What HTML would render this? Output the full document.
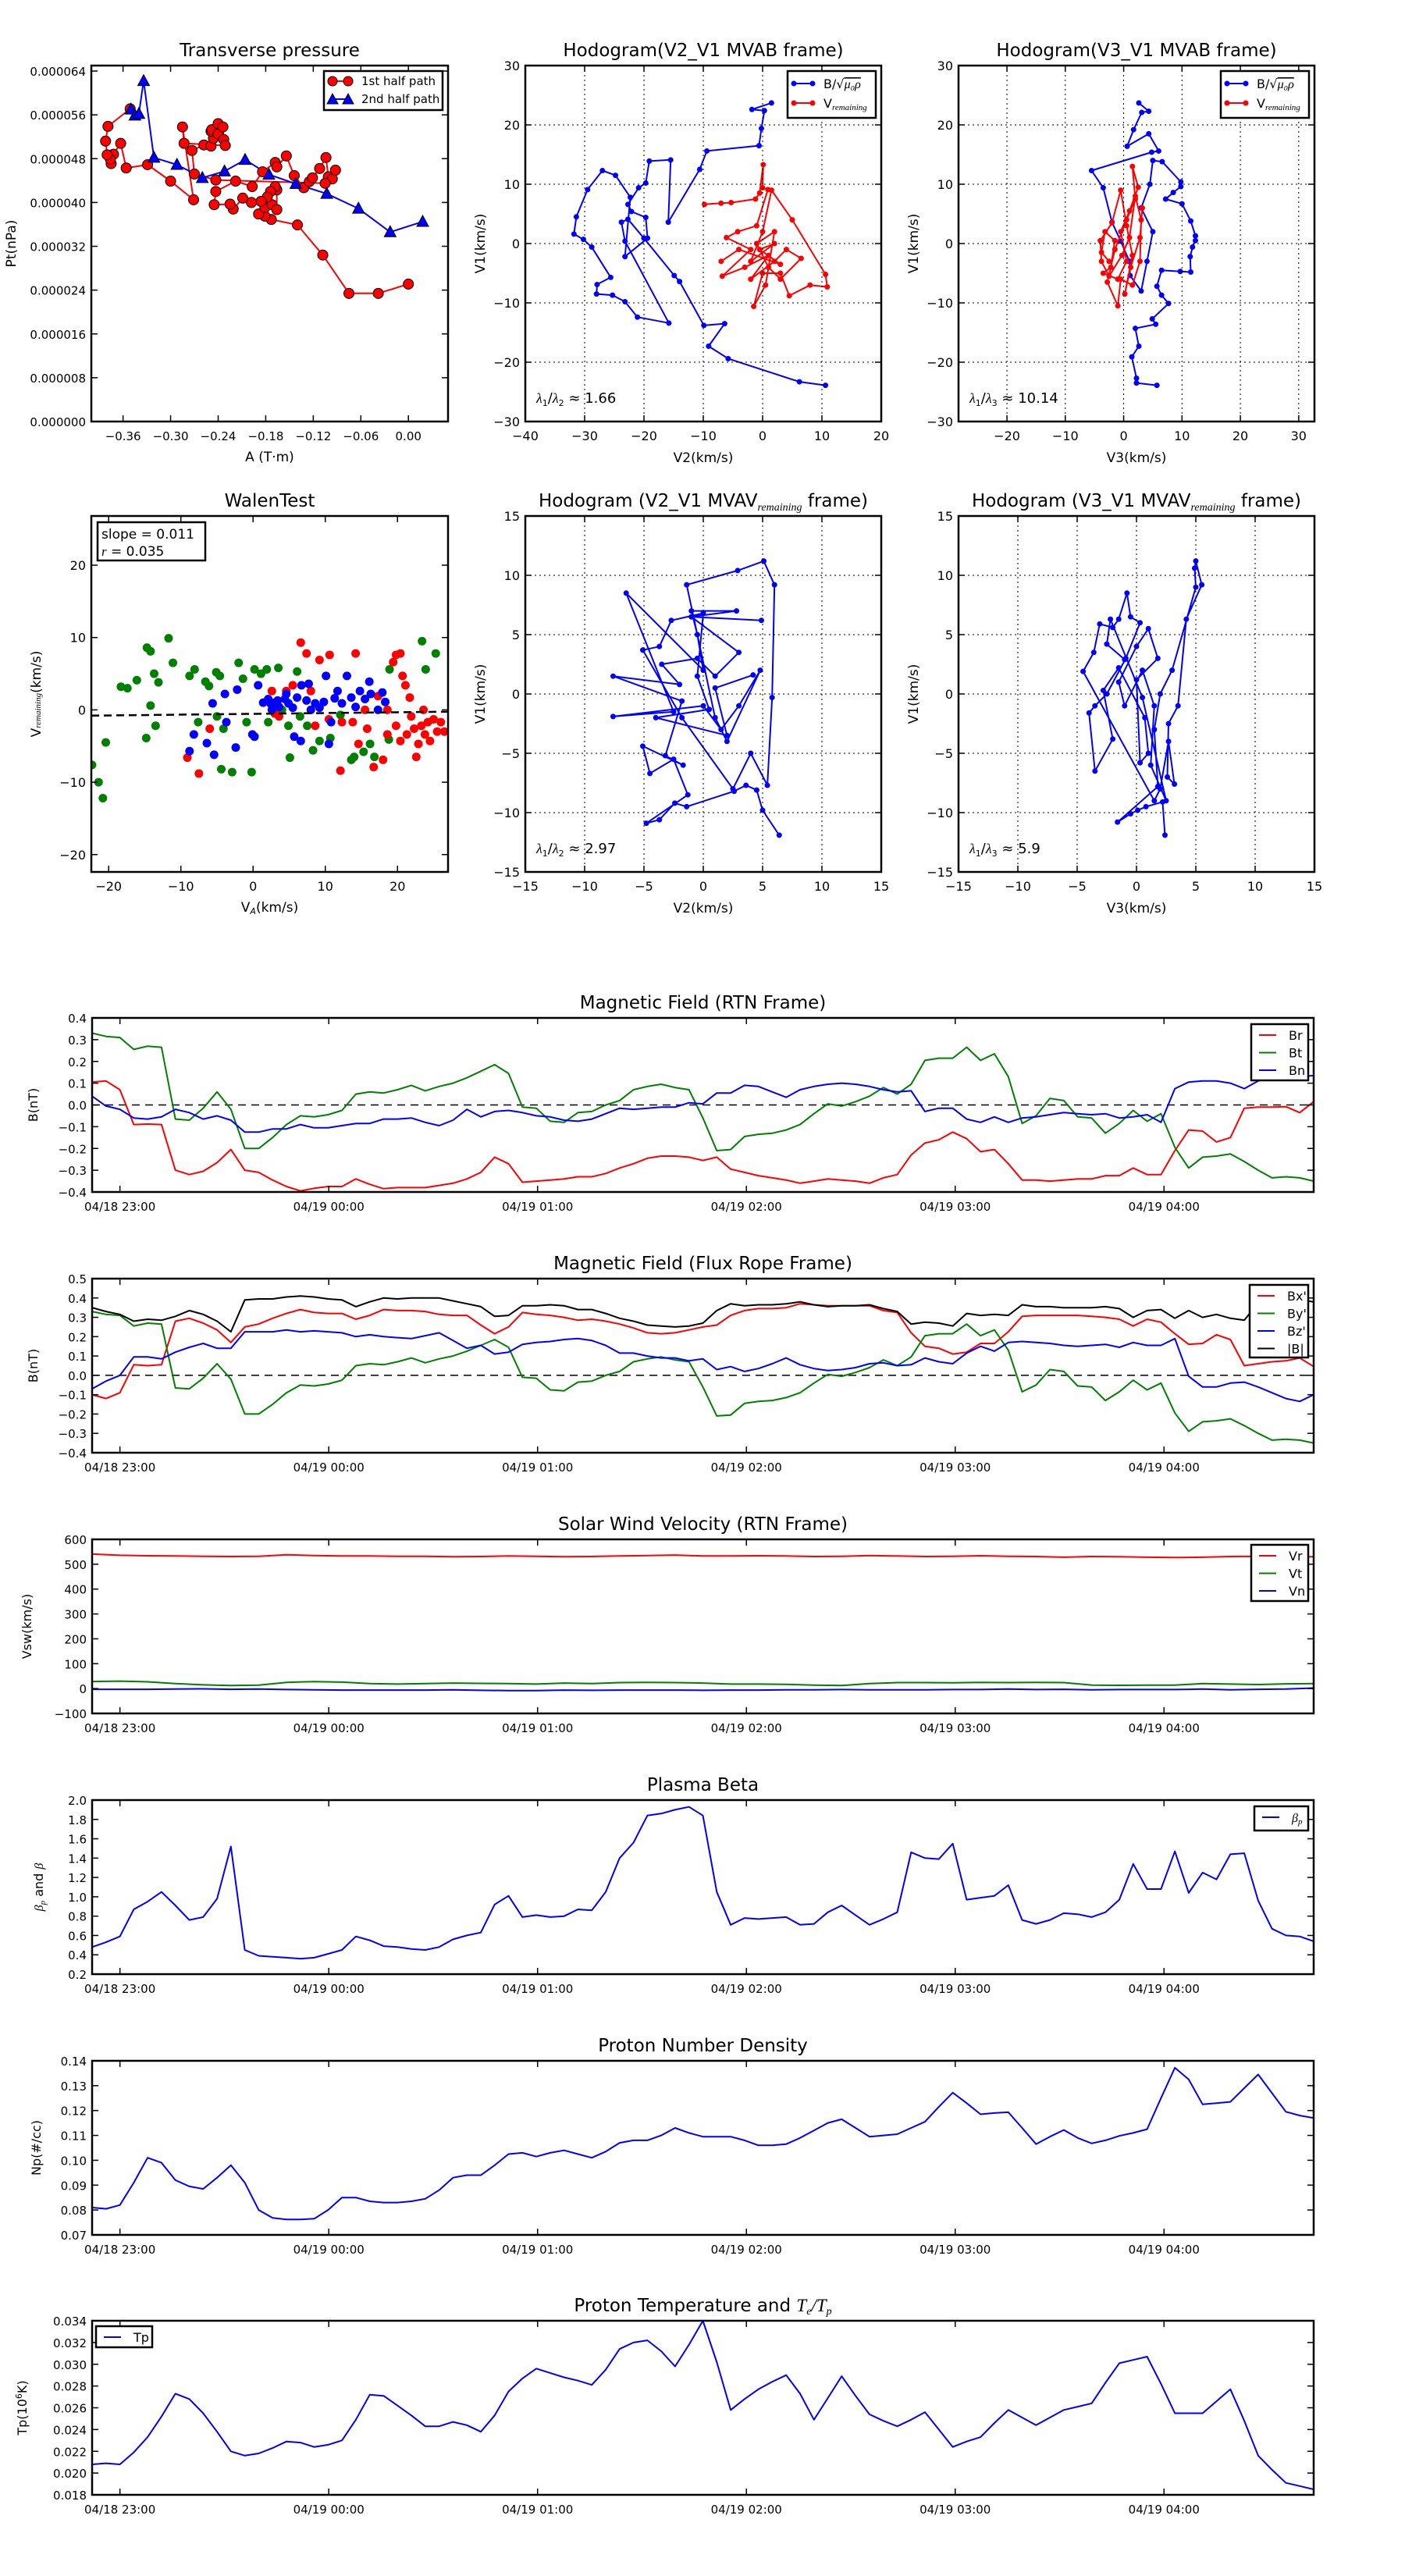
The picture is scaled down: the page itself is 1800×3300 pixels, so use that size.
<!DOCTYPE html>
<html><head><meta charset="utf-8"><title>Flux rope analysis</title>
<style>
html,body{margin:0;padding:0;background:#fff;}
svg{display:block;font-family:"DejaVu Sans","Liberation Sans",sans-serif;}
</style></head>
<body>
<svg id="fig" xmlns="http://www.w3.org/2000/svg" width="1800" height="3300" viewBox="0 0 1800 3300">
<rect x="0" y="0" width="1800" height="3300" fill="#fff"/>
</svg>
<script>
// ---------- data ----------
const ptRed = [[0,25.1],[-0.038,23.4],[-0.075,23.4],[-0.108,30.4],[-0.140,35.9],[-0.173,36.9],[-0.181,37.5],[-0.189,37.9],[-0.181,39.1],[-0.172,39.6],[-0.166,38.7],[-0.166,42.3],[-0.168,42.9],[-0.174,42.0],[-0.178,41.0],[-0.186,40.2],[-0.198,40.0],[-0.209,40.8],[-0.221,38.8],[-0.225,39.7],[-0.245,39.6],[-0.243,42.0],[-0.218,43.9],[-0.197,42.9],[-0.184,45.6],[-0.168,47.3],[-0.166,46.5],[-0.154,48.5],[-0.144,44.9],[-0.132,42.7],[-0.125,43.8],[-0.121,44.5],[-0.112,46.2],[-0.104,48.2],[-0.101,44.7],[-0.096,44.3],[-0.092,45.9],[-0.105,43.5],[-0.243,44.1],[-0.270,45.2],[-0.273,49.5],[-0.258,50.5],[-0.249,50.3],[-0.246,51.7],[-0.249,53.0],[-0.248,53.3],[-0.240,52.5],[-0.240,54.4],[-0.234,53.8],[-0.233,51.5],[-0.231,50.4],[-0.283,50.8],[-0.285,53.8],[-0.271,40.5],[-0.300,43.9],[-0.329,46.9],[-0.356,46.3],[-0.363,50.8],[-0.372,48.8],[-0.375,47.1],[-0.376,47.9],[-0.380,48.7],[-0.382,51.2],[-0.379,53.9],[-0.351,57.1]];
const ptBlue = [[-0.350,57.0],[-0.345,55.9],[-0.340,56.2],[-0.334,62.2],[-0.321,48.2],[-0.292,46.9],[-0.260,44.5],[-0.232,45.7],[-0.206,47.8],[-0.176,45.1],[-0.142,43.4],[-0.103,41.6],[-0.063,38.9],[-0.023,34.6],[0.018,36.5]];
const ptXTicks = [-0.36,-0.30,-0.24,-0.18,-0.12,-0.06,0.00];
const ptXLabels = ['\u22120.36','\u22120.30','\u22120.24','\u22120.18','\u22120.12','\u22120.06','0.00'];
const ptYTicks = [0,8,16,24,32,40,48,56,64];
const ptYLabels = ['0.000000','0.000008','0.000016','0.000024','0.000032','0.000040','0.000048','0.000056','0.000064'];

const h1Blue = [[1.5,23.7],[-1.8,22.6],[0.3,22.4],[-0.2,19.4],[-0.6,16.5],[-9.4,15.6],[-10.6,12.5],[-15.9,3.6],[-15.5,14.1],[-19.1,13.9],[-19.7,10.2],[-20.9,9.4],[-22.7,6.6],[-22.1,5.4],[-19.7,4.4],[-19.4,0.9],[-23.2,-2.2],[-22.3,7.8],[-24.8,11.5],[-27.0,12.3],[-29.5,9.1],[-31.4,4.5],[-31.8,1.6],[-30.2,0.7],[-28.8,-0.6],[-25.6,-5.7],[-27.9,-6.9],[-28.0,-8.5],[-25.3,-8.7],[-23.2,-9.8],[-21.1,-12.4],[-15.8,-13.4],[-23.2,0.4],[-23.8,3.6],[-22.7,4.1],[-20.0,0.9],[-14.9,-5.4],[-14.0,-6.4],[-9.9,-13.8],[-6.4,-13.5],[-9.1,-17.3],[-5.8,-19.4],[6.2,-23.3],[10.6,-23.9]];
const h1Red = [[-9.8,6.6],[-7.0,6.8],[-5.3,6.9],[-1.2,7.5],[-0.5,8.5],[0.1,13.3],[0,9.4],[0.9,9.1],[-1,3],[-4.2,2.0],[-6.1,1.0],[-2,-1],[-6.8,-5.5],[-3,-4],[1,-2],[-2,-6],[2,-3],[4,-1],[6.5,-2.5],[3,-6],[1,-4],[-1,0],[2,2],[0.5,-7],[-1.5,-10.6],[0,-5],[3,-5],[4.5,-8.8],[8,-7],[10.9,-7.3],[10.6,-5.2],[5,4],[1.5,9],[0,2],[-2,-3],[2,0],[-0.5,-1],[3,-3.5],[-4,-1],[-7,-3]];
const h2Blue = [[2.6,23.7],[4.3,22.3],[3.1,22.1],[1.7,19.2],[0.6,16.4],[4.3,18.5],[6,15.6],[4.8,15.4],[-5.5,12.3],[-3.5,9.4],[-2,3.6],[-0.5,0.4],[1,-3],[1.1,-5.4],[3,-8],[4,-3],[5,2],[3,6],[4.5,10],[5,14],[6.6,13.8],[9.8,10.4],[9.8,9.6],[8.5,8.6],[7.2,7.5],[10,6.7],[11.5,3.8],[12.3,1.3],[12.3,0.5],[11.8,-0.6],[11.4,-2.2],[11.5,-4.8],[9.7,-4.7],[6.5,-4.5],[5.7,-7.2],[6.5,-8.7],[7.7,-10.1],[4.9,-12.7],[5.5,-13.6],[2,-14.3],[2.6,-17.3],[1.4,-19.1],[2.2,-22.7],[2.2,-23.5],[5.7,-23.9]];
const h2Red = [[-2.5,-3],[-3.8,-1.5],[-3.2,2],[-1.5,0.5],[-2.2,-4],[-3.5,-5],[-1,-6],[0.5,-3],[-0.5,2],[1,5.5],[2.5,9.5],[1.5,13],[2,7.5],[0.5,4],[-1.5,-1],[-2.8,-6.5],[-1,-10.5],[-0.5,-6],[1.5,-7],[2.8,-3],[3,4],[2,8],[1,1],[-0.3,-2],[-2.5,-5.5],[-3.8,-3],[-4,0.5],[-2,3.5],[-0.5,9],[0.5,3],[1.5,-2],[0.2,-8.5],[1.2,-4],[2.8,1],[3.2,6]];
const h3Blue = [[6.4,-11.9],[5,-9.8],[4.5,-8.1],[3.6,-7.7],[2.6,-8.2],[-1.4,-9.5],[-2.4,-9.2],[-3.7,-10.6],[-4.8,-10.9],[-1.3,-8.5],[-2.5,-5.5],[-4.5,-6.7],[-5.1,-4.4],[-1.7,-6],[-3.2,-5.2],[-1.8,-0.6],[-7.6,1.5],[-2,0.8],[-3.5,2.5],[-0.5,3],[1,1.5],[3,3.5],[-1,6.5],[4.9,6.2],[-1,6.5],[2.8,7],[-1,7],[-0.5,5],[0,2],[-6.5,8.5],[-2.5,-1.5],[-7.6,-1.9],[0,-1],[1.5,-3],[3,-1],[4.8,2],[2,-4],[1,-2],[-1.4,9.2],[2.9,10.4],[5.1,11.2],[6,9.2],[5.8,-0.3],[5.4,-7.7],[4,-5],[2.5,-8],[-1.8,-2],[-5.1,3.7],[-3.7,4],[-2.7,6.2],[0,6.8],[-0.5,1.5],[0.5,-1.3],[-4,-2],[2,-3.5],[1,0.5],[4.2,1.6]];
const h4Blue = [[2.4,-11.9],[2.2,-9.1],[0.8,-9.5],[0.1,-9.8],[-0.5,-10.1],[-1.6,-10.8],[1.8,-7.8],[1.5,-3],[2,0],[3,2],[5,9],[4.9,10.6],[5,11.2],[5.5,9.2],[4.2,6.3],[3.5,-1],[2.7,-2.5],[2.6,-7],[3.2,-7.6],[2.7,-4],[2,-8],[1.5,-9],[-4.5,1.9],[-3.6,3.5],[-3.1,5.9],[-2,5.6],[-1.5,6.3],[-0.8,8.5],[-0.5,6.5],[0.3,6],[-0.9,3],[-2.5,0],[-3.5,-1],[-4,-1.6],[-3.5,-6.5],[-2,-3.8],[-2.8,0.3],[-1.5,2.2],[0.7,-2],[1,-5],[0.3,-5.8],[0,1.2],[1.8,3],[1,5.5],[0,4],[-1.5,1],[-1,-1],[0.5,2],[1.5,-1],[1.2,-6],[2.5,-9],[0.5,-0.3],[-2.2,6.3],[-2.5,4.2],[-1,2.9]];
const topTicks = [-30,-20,-10,0,10,20,30];
const v2TopTicks = [-40,-30,-20,-10,0,10,20];
const v3TopTicks = [-20,-10,0,10,20,30];
const lowTicks = [-15,-10,-5,0,5,10,15];
const ratios = ['1.66','10.14','2.97','5.9'];

const walenGreen = [[-22.3,-7.6],[-21.4,-10.0],[-20.8,-12.2],[-20.4,-4.5],[-18.3,3.2],[-17.4,3.0],[-16.1,4.1],[-14.7,8.6],[-14.2,8.1],[-14.8,-3.9],[-14.2,0.6],[-13.5,-2.2],[-13.1,3.8],[-13.7,5.0],[-11.7,9.9],[-11.1,6.5],[-8.8,4.7],[-8.1,5.6],[-7.6,-1.7],[-6.6,3.9],[-6.1,3.3],[-5.1,5.2],[-4.6,4.7],[-5.0,-0.9],[-4.1,-2.6],[-4.4,-8.2],[-2.9,-8.6],[-2.0,6.5],[-1.4,4.3],[-0.9,-1.7],[-0.2,-8.6],[0.2,5.6],[1.1,5.0],[1.9,5.6],[2.1,-1.7],[3.5,5.8],[4.0,0],[4.9,-2.2],[5.1,-6.6],[6.1,5.3],[6.5,-0.9],[7.5,-2.2],[8.3,-5.6],[9.2,-4.3],[10.7,-3.9],[12.1,-0.7],[13.6,-6.9],[14.0,-6.5],[15.3,-5.8],[16.2,-4.7],[16.8,-6.5],[18.9,5.6],[18.8,-4.1],[23.4,9.5],[25.3,7.8],[23.9,5.6]];
const walenRed = [[-9.1,-6.6],[-7.5,-8.8],[-6.0,-2.6],[2.6,2.6],[3.0,-0.5],[5.5,3.4],[6.6,9.3],[7.4,7.8],[9.2,6.9],[10.6,7.6],[12.1,-8.4],[12.3,-1.7],[14.2,7.8],[14.6,-4.7],[15.8,-2.6],[16.7,-7.9],[18.0,-6.9],[18.6,-3.4],[19.4,6.6],[19.8,7.6],[20.4,7.8],[20.7,4.7],[21.1,3.4],[21.7,1.7],[21.9,-0.9],[22.3,-2.6],[22.6,-6.5],[22.9,-4.7],[23.3,-2.2],[23.6,0],[23.8,-3.4],[24.2,-1.7],[24.5,-4.3],[25.0,-1.3],[25.5,-3.0],[26.0,-1.7],[26.5,-3.0],[19.8,-2.2],[20.4,-4.3],[21.3,-3.4],[18.6,0],[17.3,1.9],[15.5,0],[13.8,-1.7],[10.5,-1.3],[8.6,-2.2],[4.6,2.6],[3.6,-0.9],[8.0,2.6]];
const walenBlue = [[-8.8,-5.7],[-8.2,-3.4],[-6.4,-4.6],[-5.6,0.9],[-5.4,-6.2],[-3.9,2.2],[-3.7,-1.7],[-2.4,-5.2],[-2.2,2.8],[-0.1,-3.4],[0.2,-3.7],[2.1,1.5],[2.4,0.9],[3.0,1.0],[3.6,0.4],[4.4,1.5],[4.9,0.9],[5.5,0.3],[6.1,1.7],[5.7,-3.7],[6.6,-4.3],[6.7,3.4],[7.7,3.6],[8.6,0.9],[9.2,0.3],[9.8,1.1],[10.1,4.7],[10.5,-4.7],[10.8,-1.7],[11.3,1.6],[11.7,2.6],[12.3,0.9],[13.0,4.7],[13.6,1.7],[14.2,0.4],[14.8,2.6],[15.5,1.5],[16.1,3.9],[16.3,2.2],[17.3,0],[17.9,2.4],[18.3,1.1],[8.0,0],[7.4,1.3],[4.6,2.2],[3.4,1.3],[2.6,0],[1.4,1.0],[0.7,3.4]];
const walenFit = [0.011, -0.55];
const walenTicks = [-20,-10,0,10,20];

const hourTicks = [0,60,120,180,240,300];
const hourLabels = ['04/18 23:00','04/19 00:00','04/19 01:00','04/19 02:00','04/19 03:00','04/19 04:00'];
const Br = [0.105,0.11,0.07,-0.09,-0.088,-0.09,-0.30,-0.32,-0.305,-0.265,-0.205,-0.30,-0.31,-0.345,-0.375,-0.395,-0.383,-0.375,-0.375,-0.34,-0.365,-0.385,-0.38,-0.38,-0.38,-0.37,-0.36,-0.34,-0.31,-0.24,-0.27,-0.355,-0.35,-0.345,-0.34,-0.33,-0.33,-0.315,-0.29,-0.27,-0.245,-0.235,-0.235,-0.24,-0.255,-0.24,-0.295,-0.31,-0.325,-0.335,-0.345,-0.36,-0.35,-0.34,-0.345,-0.35,-0.36,-0.335,-0.32,-0.23,-0.175,-0.16,-0.125,-0.155,-0.215,-0.205,-0.27,-0.345,-0.345,-0.35,-0.345,-0.34,-0.34,-0.325,-0.325,-0.29,-0.32,-0.32,-0.21,-0.115,-0.12,-0.17,-0.15,-0.015,-0.01,-0.01,-0.008,-0.035,0.015];
const Bt = [0.33,0.315,0.31,0.255,0.27,0.265,-0.065,-0.07,-0.015,0.06,-0.02,-0.20,-0.20,-0.15,-0.09,-0.05,-0.055,-0.045,-0.025,0.05,0.06,0.055,0.07,0.09,0.065,0.085,0.10,0.125,0.155,0.185,0.145,-0.01,-0.015,-0.075,-0.08,-0.035,-0.03,0,0.02,0.07,0.085,0.095,0.08,0.07,-0.06,-0.21,-0.205,-0.145,-0.135,-0.13,-0.115,-0.09,-0.04,0.005,-0.005,0.015,0.04,0.08,0.05,0.095,0.205,0.215,0.215,0.265,0.205,0.235,0.13,-0.085,-0.05,0.03,0.02,-0.055,-0.06,-0.13,-0.085,-0.025,-0.075,-0.04,-0.195,-0.29,-0.24,-0.235,-0.225,-0.26,-0.30,-0.335,-0.33,-0.335,-0.35];
const Bn = [0.04,-0.005,-0.02,-0.06,-0.065,-0.055,-0.02,-0.035,-0.065,-0.05,-0.07,-0.125,-0.125,-0.11,-0.11,-0.09,-0.105,-0.105,-0.095,-0.085,-0.085,-0.065,-0.065,-0.06,-0.08,-0.095,-0.07,-0.02,-0.055,-0.03,-0.025,-0.035,-0.05,-0.055,-0.07,-0.075,-0.065,-0.04,-0.015,-0.02,-0.015,-0.01,-0.01,0.01,0.005,0.055,0.055,0.09,0.085,0.06,0.035,0.07,0.085,0.095,0.1,0.095,0.085,0.07,0.06,0.065,-0.03,-0.015,-0.015,-0.065,-0.08,-0.055,-0.08,-0.06,-0.055,-0.045,-0.035,-0.04,-0.045,-0.04,-0.06,-0.055,-0.045,-0.08,0.075,0.105,0.11,0.11,0.1,0.075,0.11,0.13,0.135,0.13,0.135];
const Bx = [-0.10,-0.12,-0.09,0.055,0.05,0.055,0.28,0.295,0.27,0.235,0.17,0.25,0.265,0.295,0.32,0.34,0.325,0.32,0.32,0.29,0.31,0.34,0.335,0.335,0.33,0.315,0.31,0.31,0.26,0.215,0.25,0.325,0.315,0.31,0.3,0.285,0.29,0.28,0.265,0.245,0.22,0.215,0.22,0.235,0.25,0.26,0.31,0.335,0.345,0.345,0.35,0.37,0.365,0.36,0.36,0.36,0.36,0.335,0.325,0.22,0.15,0.14,0.11,0.12,0.165,0.165,0.225,0.305,0.31,0.31,0.31,0.31,0.305,0.3,0.29,0.255,0.29,0.275,0.215,0.16,0.165,0.21,0.185,0.05,0.06,0.07,0.075,0.09,0.045];
const By = Bt.slice();
const Bz = [-0.07,-0.03,0.0,0.095,0.095,0.085,0.12,0.145,0.165,0.14,0.14,0.225,0.225,0.225,0.235,0.225,0.23,0.225,0.22,0.2,0.21,0.2,0.195,0.19,0.205,0.22,0.18,0.14,0.155,0.11,0.12,0.16,0.17,0.175,0.185,0.19,0.18,0.155,0.115,0.115,0.1,0.09,0.09,0.075,0.085,0.03,0.045,0.02,0.035,0.06,0.09,0.055,0.035,0.025,0.03,0.04,0.06,0.065,0.05,0.055,0.09,0.07,0.06,0.115,0.15,0.125,0.17,0.175,0.17,0.165,0.155,0.15,0.155,0.16,0.145,0.17,0.155,0.155,0.19,-0.005,-0.06,-0.06,-0.04,-0.035,-0.06,-0.09,-0.12,-0.135,-0.1];
const Bmag = [0.35,0.33,0.315,0.28,0.29,0.285,0.305,0.335,0.315,0.28,0.225,0.39,0.395,0.395,0.405,0.41,0.405,0.395,0.39,0.355,0.38,0.4,0.395,0.4,0.4,0.4,0.385,0.37,0.355,0.305,0.31,0.36,0.36,0.365,0.36,0.34,0.34,0.32,0.295,0.28,0.26,0.255,0.25,0.255,0.27,0.335,0.37,0.36,0.365,0.365,0.37,0.38,0.365,0.355,0.36,0.36,0.365,0.345,0.33,0.265,0.275,0.27,0.255,0.32,0.31,0.315,0.31,0.365,0.355,0.355,0.35,0.35,0.35,0.355,0.345,0.3,0.335,0.34,0.295,0.335,0.3,0.315,0.295,0.285,0.375,0.38,0.385,0.39,0.38];
const Vr = [541,536,534,533,532,531,532,538,535,533,533,532,532,530,531,533,532,530,531,533,535,537,533,533,534,533,531,532,535,533,531,532,534,532,531,528,531,530,528,527,528,531,532,529,530];
const Vt = [28,30,27,20,15,12,14,25,28,26,20,18,20,22,21,20,18,22,20,24,25,24,22,18,18,17,14,12,20,24,24,23,25,24,25,24,14,13,14,14,20,18,16,19,20];
const Vn = [-3,-3,-3,-2,-1,-3,-2,-4,-5,-6,-6,-6,-6,-5,-7,-8,-8,-6,-7,-6,-6,-6,-7,-6,-6,-5,-5,-4,-5,-5,-5,-4,-4,-2,-4,-3,-5,-4,-4,-4,-2,-5,-3,-2,2];
const beta = [0.48,0.53,0.59,0.87,0.95,1.05,0.91,0.76,0.79,0.98,1.52,0.45,0.39,0.38,0.37,0.36,0.37,0.41,0.45,0.59,0.55,0.49,0.48,0.46,0.45,0.48,0.56,0.6,0.63,0.92,1.01,0.79,0.81,0.79,0.8,0.87,0.86,1.05,1.4,1.56,1.84,1.86,1.9,1.93,1.84,1.05,0.71,0.78,0.77,0.78,0.79,0.71,0.72,0.84,0.91,0.81,0.71,0.77,0.84,1.46,1.4,1.39,1.55,0.97,0.99,1.01,1.12,0.76,0.72,0.76,0.83,0.82,0.79,0.84,0.97,1.34,1.08,1.08,1.47,1.04,1.25,1.18,1.44,1.45,0.96,0.67,0.6,0.59,0.54];
const Np = [0.081,0.0805,0.082,0.091,0.101,0.099,0.092,0.0895,0.0885,0.093,0.098,0.091,0.080,0.0768,0.0762,0.0762,0.0765,0.080,0.085,0.085,0.0835,0.083,0.083,0.0835,0.0845,0.088,0.093,0.094,0.094,0.098,0.1025,0.103,0.1015,0.103,0.104,0.1025,0.101,0.1035,0.107,0.108,0.108,0.110,0.113,0.111,0.1095,0.1095,0.1095,0.108,0.106,0.106,0.1065,0.109,0.112,0.115,0.1165,0.113,0.1095,0.110,0.1105,0.113,0.1155,0.1215,0.1272,0.123,0.1185,0.119,0.1193,0.113,0.1065,0.1095,0.1122,0.109,0.1068,0.108,0.1098,0.111,0.1125,0.125,0.1372,0.1325,0.1225,0.123,0.1235,0.129,0.1345,0.127,0.1195,0.118,0.117];
const Tp = [0.0208,0.0209,0.0208,0.0219,0.0233,0.0252,0.0273,0.0268,0.0255,0.0238,0.0220,0.0216,0.0218,0.0223,0.0229,0.0228,0.0224,0.0226,0.0230,0.0249,0.0272,0.0271,0.0262,0.0253,0.0243,0.0243,0.0247,0.0244,0.0238,0.0253,0.0275,0.0287,0.0296,0.0292,0.0288,0.0285,0.0281,0.0295,0.0314,0.0320,0.0322,0.0312,0.0298,0.0318,0.0340,0.0302,0.0258,0.0268,0.0277,0.0284,0.0290,0.0273,0.0249,0.0269,0.0289,0.0271,0.0254,0.0248,0.0243,0.0249,0.0256,0.0240,0.0224,0.0229,0.0233,0.0246,0.0258,0.0251,0.0244,0.0251,0.0258,0.0261,0.0264,0.0283,0.0301,0.0304,0.0307,0.0282,0.0255,0.0255,0.0255,0.0266,0.0277,0.0248,0.0216,0.0203,0.0191,0.0188,0.0185];

const bTicks1 = [-0.4,-0.3,-0.2,-0.1,0,0.1,0.2,0.3,0.4];
const bTicks2 = [-0.4,-0.3,-0.2,-0.1,0,0.1,0.2,0.3,0.4,0.5];
const vTicks = [-100,0,100,200,300,400,500,600];
const betaTicks = [0.2,0.4,0.6,0.8,1.0,1.2,1.4,1.6,1.8,2.0];
const npTicks = [0.07,0.08,0.09,0.10,0.11,0.12,0.13,0.14];
const tpTicks = [0.018,0.020,0.022,0.024,0.026,0.028,0.030,0.032,0.034];

// ---------- drawing helpers ----------
const NS = 'http://www.w3.org/2000/svg';
const svg = document.getElementById('fig');
function mk(tag, attrs, parent) {
  const e = document.createElementNS(NS, tag);
  for (const k in attrs) e.setAttribute(k, attrs[k]);
  (parent || svg).appendChild(e);
  return e;
}
function nm(e, name) {
  
  
  return e;
}
function fmt(v, d) { const s = v.toFixed(d); return s.startsWith('-') ? '\u2212' + s.slice(1) : s; }
let clipId = 0;
function makeAxes(name, x0, y0, w, h, xd, yd) {
  const g = mk('g', {});
  nm(g, name);
  clipId++;
  const cp = mk('clipPath', { id: 'c' + clipId }, g);
  mk('rect', { x: x0, y: y0, width: w, height: h }, cp);
  const data = mk('g', { 'clip-path': 'url(#c' + clipId + ')' }, g);
  nm(data, name + '-plot-area');
  return {
    g, data, x0, y0, w, h,
    X: v => x0 + (v - xd[0]) / (xd[1] - xd[0]) * w,
    Y: v => y0 + h - (v - yd[0]) / (yd[1] - yd[0]) * h
  };
}
function ticks(ax, xt, xl, yt, yl, grid, fs) {
  fs = fs || 16;
  xt.forEach((v, i) => {
    const x = ax.X(v);
    if (grid) { const gl = mk('line', { x1: x, x2: x, y1: ax.y0, y2: ax.y0 + ax.h, stroke: '#000', 'stroke-width': 1, 'stroke-dasharray': '2,4' }, ax.g); nm(gl, 'x-grid-line'); }
    mk('line', { x1: x, x2: x, y1: ax.y0 + ax.h, y2: ax.y0 + ax.h - 8, stroke: '#000', 'stroke-width': 1.5 }, ax.g);
    mk('line', { x1: x, x2: x, y1: ax.y0, y2: ax.y0 + 8, stroke: '#000', 'stroke-width': 1.5 }, ax.g);
    const t = mk('text', { x: x, y: ax.y0 + ax.h + 24, 'text-anchor': 'middle', 'font-size': fs }, ax.g);
    nm(t, 'x-tick-label');
    t.textContent = xl[i];
  });
  yt.forEach((v, i) => {
    const y = ax.Y(v);
    if (grid) { const gl = mk('line', { x1: ax.x0, x2: ax.x0 + ax.w, y1: y, y2: y, stroke: '#000', 'stroke-width': 1, 'stroke-dasharray': '2,4' }, ax.g); nm(gl, 'y-grid-line'); }
    mk('line', { x1: ax.x0, x2: ax.x0 + 8, y1: y, y2: y, stroke: '#000', 'stroke-width': 1.5 }, ax.g);
    mk('line', { x1: ax.x0 + ax.w, x2: ax.x0 + ax.w - 8, y1: y, y2: y, stroke: '#000', 'stroke-width': 1.5 }, ax.g);
    const t = mk('text', { x: ax.x0 - 7, y: y + 6, 'text-anchor': 'end', 'font-size': fs }, ax.g);
    nm(t, 'y-tick-label');
    t.textContent = yl[i];
  });
}
function border(ax) {
  const r = mk('rect', { x: ax.x0, y: ax.y0, width: ax.w, height: ax.h, fill: 'none', stroke: '#000', 'stroke-width': 2.5 }, ax.g);
  nm(r, 'axes-frame');
}
function title(ax, txt, name) {
  const t = mk('text', { x: ax.x0 + ax.w / 2, y: ax.y0 - 12, 'text-anchor': 'middle', 'font-size': 23 }, ax.g);
  nm(t, name || 'chart-title');
  t.innerHTML = txt;
  return t;
}
function ylabel(ax, x, txt, fs) {
  const cy = ax.y0 + ax.h / 2;
  const t = mk('text', { x: x, y: cy, 'text-anchor': 'middle', 'font-size': fs || 17, transform: 'rotate(-90 ' + x + ' ' + cy + ')' }, ax.g);
  nm(t, 'y-axis-title');
  t.innerHTML = txt;
}
function xlabel(ax, y, txt) {
  const t = mk('text', { x: ax.x0 + ax.w / 2, y: y, 'text-anchor': 'middle', 'font-size': 17 }, ax.g);
  nm(t, 'x-axis-title');
  t.innerHTML = txt;
}
function pathPts(ax, pts, color, name, lw) {
  const p = mk('polyline', { points: pts.map(q => ax.X(q[0]).toFixed(1) + ',' + ax.Y(q[1]).toFixed(1)).join(' '), fill: 'none', stroke: color, 'stroke-width': lw || 2, 'stroke-linejoin': 'round' }, ax.data);
  nm(p, name);
}
function dots(ax, pts, color, r, name, stroke) {
  pts.forEach(q => {
    const c = mk('circle', { cx: ax.X(q[0]), cy: ax.Y(q[1]), r: r, fill: color, stroke: stroke || 'none', 'stroke-width': 1 }, ax.data);
    nm(c, name);
  });
}
function tri(ax, pts, name) {
  pts.forEach(q => {
    const x = ax.X(q[0]), y = ax.Y(q[1]);
    const p = mk('polygon', { points: `${x},${y - 8} ${x - 7.5},${y + 6} ${x + 7.5},${y + 6}`, fill: '#0000ff', stroke: '#000', 'stroke-width': 1 }, ax.data);
    nm(p, name);
  });
}
function legendBox(parent, x, y, w, h, name) {
  const r = mk('rect', { x: x, y: y, width: w, height: h, fill: '#fff', stroke: '#000', 'stroke-width': 2.5 }, parent);
  nm(r, name);
}
function legendEntry(parent, x, y, color, label, name, fs) {
  const g = mk('g', {}, parent);
  nm(g, name);
  mk('line', { x1: x, x2: x + 22, y1: y, y2: y, stroke: color, 'stroke-width': 2 }, g);
  const t = mk('text', { x: x + 38, y: y + 6, 'font-size': fs || 16 }, g);
  t.innerHTML = label;
}

// ---------- Transverse pressure ----------
(function () {
  const ax = makeAxes('transverse-pressure-chart', 117, 84, 457, 456, [-0.40, 0.05], [0, 65]);
  ticks(ax, ptXTicks, ptXLabels, ptYTicks, ptYLabels, false, 15);
  pathPts(ax, ptRed, '#ff0000', 'first-half-path-line');
  pathPts(ax, ptBlue, '#0000ff', 'second-half-path-line');
  dots(ax, ptRed, '#ff0000', 6.5, 'first-half-point', '#000');
  tri(ax, ptBlue, 'second-half-point');
  border(ax);
  title(ax, 'Transverse pressure');
  ylabel(ax, 20, 'Pt(nPa)');
  xlabel(ax, 591, 'A (T\u00b7m)');
  legendBox(ax.g, 415, 91, 152, 50, 'legend');
  const l1 = mk('g', {}, ax.g);
  nm(l1, 'legend-entry-first-half');
  mk('line', { x1: 426, x2: 446, y1: 104, y2: 104, stroke: '#ff0000', 'stroke-width': 2 }, l1);
  mk('circle', { cx: 426, cy: 104, r: 6, fill: '#ff0000', stroke: '#000' }, l1);
  mk('circle', { cx: 446, cy: 104, r: 6, fill: '#ff0000', stroke: '#000' }, l1);
  const t1 = mk('text', { x: 463, y: 109, 'font-size': 15 }, l1); t1.textContent = '1st half path';
  const l2 = mk('g', {}, ax.g);
  nm(l2, 'legend-entry-second-half');
  mk('line', { x1: 426, x2: 446, y1: 127, y2: 127, stroke: '#0000ff', 'stroke-width': 2 }, l2);
  mk('polygon', { points: '426,120 419,133 433,133', fill: '#0000ff', stroke: '#000' }, l2);
  mk('polygon', { points: '446,120 439,133 453,133', fill: '#0000ff', stroke: '#000' }, l2);
  const t2 = mk('text', { x: 463, y: 132, 'font-size': 15 }, l2); t2.textContent = '2nd half path';
})();

// ---------- hodograms ----------
function hodo(name, x0, y0, xd, yd, xt, yt, blue, red, ttl, xl, ratio, legend) {
  const ax = makeAxes(name, x0, y0, 456, 456, xd, yd);
  ticks(ax, xt, xt.map(v => fmt(v, 0)), yt, yt.map(v => fmt(v, 0)), true, 16);
  pathPts(ax, blue, '#0000ff', 'b-hodogram-line', 2);
  dots(ax, blue, '#0000ff', 3.5, 'b-hodogram-point');
  if (red) {
    pathPts(ax, red, '#ff0000', 'v-remaining-line', 2);
    dots(ax, red, '#ff0000', 3.5, 'v-remaining-point');
  }
  border(ax);
  title(ax, ttl);
  ylabel(ax, x0 - 52, 'V1(km/s)');
  xlabel(ax, y0 + 508, xl);
  const lt = mk('text', { x: x0 + 14, y: y0 + 432, 'font-size': 18 }, ax.g);
  nm(lt, 'eigenvalue-ratio');
  lt.innerHTML = '<tspan font-style="italic" font-family="Liberation Serif">\u03bb</tspan><tspan font-size="11" dy="4">1</tspan><tspan dy="-4">/</tspan><tspan font-style="italic" font-family="Liberation Serif">\u03bb</tspan><tspan font-size="11" dy="4">' + (xl.startsWith('V3') ? '3' : '2') + '</tspan><tspan dy="-4"> \u2248 ' + ratio + '</tspan>';
  if (legend) {
    const lx = x0 + 456 - 120;
    legendBox(ax.g, lx, y0 + 7, 113, 60, 'legend');
    const e1 = mk('g', {}, ax.g);
    nm(e1, 'legend-entry-b');
    mk('line', { x1: lx + 8, x2: lx + 32, y1: y0 + 23, y2: y0 + 23, stroke: '#0000ff', 'stroke-width': 2 }, e1);
    mk('circle', { cx: lx + 8, cy: y0 + 23, r: 3.5, fill: '#0000ff' }, e1);
    mk('circle', { cx: lx + 32, cy: y0 + 23, r: 3.5, fill: '#0000ff' }, e1);
    const a = mk('text', { x: lx + 46, y: y0 + 29, 'font-size': 16 }, e1);
    a.innerHTML = 'B/\u221a<tspan font-style="italic" font-family="Liberation Serif" text-decoration="overline">\u03bc\u2080\u03c1</tspan>';
    const e2 = mk('g', {}, ax.g);
    nm(e2, 'legend-entry-v-remaining');
    mk('line', { x1: lx + 8, x2: lx + 32, y1: y0 + 48, y2: y0 + 48, stroke: '#ff0000', 'stroke-width': 2 }, e2);
    mk('circle', { cx: lx + 8, cy: y0 + 48, r: 3.5, fill: '#ff0000' }, e2);
    mk('circle', { cx: lx + 32, cy: y0 + 48, r: 3.5, fill: '#ff0000' }, e2);
    const b = mk('text', { x: lx + 46, y: y0 + 54, 'font-size': 16 }, e2);
    b.innerHTML = 'V<tspan font-size="11" font-style="italic" font-family="Liberation Serif" dy="3">remaining</tspan>';
  }
}
hodo('hodogram-v2-mvab', 673, 84, [-40, 20], [-30, 30], v2TopTicks, topTicks, h1Blue, h1Red, 'Hodogram(V2_V1 MVAB frame)', 'V2(km/s)', ratios[0], true);
hodo('hodogram-v3-mvab', 1228, 84, [-28.3, 32.7], [-30, 30], v3TopTicks, topTicks, h2Blue, h2Red, 'Hodogram(V3_V1 MVAB frame)', 'V3(km/s)', ratios[1], true);
hodo('hodogram-v2-mvav', 673, 661, [-15, 15], [-15, 15], lowTicks, lowTicks, h3Blue, null, 'Hodogram (V2_V1 MVAV<tspan font-size="14" font-style="italic" font-family="Liberation Serif" dy="5">remaining</tspan><tspan dy="-5"> frame)</tspan>', 'V2(km/s)', ratios[2], false);
hodo('hodogram-v3-mvav', 1228, 661, [-15, 15], [-15, 15], lowTicks, lowTicks, h4Blue, null, 'Hodogram (V3_V1 MVAV<tspan font-size="14" font-style="italic" font-family="Liberation Serif" dy="5">remaining</tspan><tspan dy="-5"> frame)</tspan>', 'V3(km/s)', ratios[3], false);

// ---------- Walen test ----------
(function () {
  const ax = makeAxes('walen-test-chart', 117, 661, 457, 456, [-22.4, 27], [-22.4, 26.8]);
  ticks(ax, walenTicks, walenTicks.map(v => fmt(v, 0)), walenTicks, walenTicks.map(v => fmt(v, 0)), false, 16);
  dots(ax, walenGreen, '#008000', 5.5, 'walen-point-green');
  dots(ax, walenRed, '#ff0000', 5.5, 'walen-point-red');
  dots(ax, walenBlue, '#0000ff', 5.5, 'walen-point-blue');
  const fl = mk('line', { x1: ax.X(-22.4), x2: ax.X(27), y1: ax.Y(walenFit[1] + walenFit[0] * -22.4), y2: ax.Y(walenFit[1] + walenFit[0] * 27), stroke: '#000', 'stroke-width': 2.5, 'stroke-dasharray': '10,6' }, ax.data);
  nm(fl, 'fit-line');
  border(ax);
  title(ax, 'WalenTest');
  ylabel(ax, 52, 'V<tspan font-size="11" font-style="italic" font-family="Liberation Serif">remaining</tspan>(km/s)');
  xlabel(ax, 1168, 'V<tspan font-size="11" font-style="italic" dy="3">A</tspan><tspan dy="-3">(km/s)</tspan>');
  legendBox(ax.g, 125, 669, 138, 49, 'fit-stats-box');
  const s1 = mk('text', { x: 130, y: 690, 'font-size': 17 }, ax.g);
  nm(s1, 'slope-text');
  s1.textContent = 'slope = 0.011';
  const s2 = mk('text', { x: 130, y: 712, 'font-size': 17 }, ax.g);
  nm(s2, 'r-text');
  s2.innerHTML = '<tspan font-style="italic" font-family="Liberation Serif">r</tspan> = 0.035';
})();

// ---------- time series ----------
const tTop = [1304, 1638, 1972, 2306, 2640, 2973];
function tseries(name, idx, yd, yt, yl, ttl, ylab, ylx, series, legend, zeroLine) {
  const ax = makeAxes(name, 118, tTop[idx], 1565, 223, [-8, 343], yd);
  ticks(ax, hourTicks, hourLabels, yt, yl, false, 15);
  if (zeroLine) {
    const z = mk('line', { x1: ax.x0, x2: ax.x0 + ax.w, y1: ax.Y(0), y2: ax.Y(0), stroke: '#000', 'stroke-width': 1.5, 'stroke-dasharray': '10,7' }, ax.data);
    nm(z, 'zero-reference-line');
  }
  series.forEach(s => {
    const n = s.v.length;
    const pts = s.v.map((v, i) => [-8 + i * 351 / (n - 1), v]);
    pathPts(ax, pts, s.c, s.n + '-line', 2);
  });
  border(ax);
  title(ax, ttl);
  ylabel(ax, ylx, ylab, 16);
  if (legend) {
    const [lx, ly, lw, lh] = legend;
    legendBox(ax.g, lx, ly, lw, lh, 'legend');
    series.forEach((s, i) => {
      if (s.hide) return;
      legendEntry(ax.g, lx + 10, ly + 14 + i * 22.5, s.c, s.l, 'legend-entry-' + s.n, 16);
    });
  }
}
tseries('magnetic-field-rtn-chart', 0, [-0.4, 0.4], bTicks1, bTicks1.map(v => fmt(v, 1)), 'Magnetic Field (RTN Frame)', 'B(nT)', 48,
  [{ v: Br, c: '#ff0000', n: 'br', l: 'Br' }, { v: Bt, c: '#008000', n: 'bt', l: 'Bt' }, { v: Bn, c: '#0000ff', n: 'bn', l: 'Bn' }],
  [1603, 1312, 73, 72], true);
tseries('magnetic-field-flux-rope-chart', 1, [-0.4, 0.5], bTicks2, bTicks2.map(v => fmt(v, 1)), 'Magnetic Field (Flux Rope Frame)', 'B(nT)', 48,
  [{ v: Bx, c: '#ff0000', n: 'bx', l: "Bx'" }, { v: By, c: '#008000', n: 'by', l: "By'" }, { v: Bz, c: '#0000ff', n: 'bz', l: "Bz'" }, { v: Bmag, c: '#000000', n: 'bmag', l: '|B|' }],
  [1601, 1646, 75, 93], true);
tseries('solar-wind-velocity-chart', 2, [-100, 600], vTicks, vTicks.map(v => fmt(v, 0)), 'Solar Wind Velocity (RTN Frame)', 'Vsw(km/s)', 40,
  [{ v: Vr, c: '#ff0000', n: 'vr', l: 'Vr' }, { v: Vt, c: '#008000', n: 'vt', l: 'Vt' }, { v: Vn, c: '#0000ff', n: 'vn', l: 'Vn' }],
  [1603, 1979, 73, 72], false);
tseries('plasma-beta-chart', 3, [0.2, 2.0], betaTicks, betaTicks.map(v => fmt(v, 1)), 'Plasma Beta', '<tspan font-style="italic" font-family="Liberation Serif">\u03b2<tspan font-size="11" dy="3">p</tspan></tspan><tspan dy="-3"> and </tspan><tspan font-style="italic" font-family="Liberation Serif">\u03b2</tspan>', 55,
  [{ v: beta, c: '#0000ff', n: 'beta-p', l: '<tspan font-style="italic" font-family="Liberation Serif">\u03b2<tspan font-size="11" dy="3">p</tspan></tspan>' }],
  [1607, 2314, 69, 31], false);
tseries('proton-density-chart', 4, [0.07, 0.14], npTicks, npTicks.map(v => fmt(v, 2)), 'Proton Number Density', 'Np(#/cc)', 52,
  [{ v: Np, c: '#0000ff', n: 'np', l: 'Np' }], null, false);
tseries('proton-temperature-chart', 5, [0.018, 0.034], tpTicks, tpTicks.map(v => fmt(v, 3)), 'Proton Temperature and <tspan font-style="italic" font-family="Liberation Serif">T<tspan font-size="14" dy="4">e</tspan><tspan dy="-4">/T</tspan><tspan font-size="14" dy="4">p</tspan></tspan>', 'Tp(10<tspan font-size="11" dy="-6">6</tspan><tspan dy="6">K)</tspan>', 34,
  [{ v: Tp, c: '#0000ff', n: 'tp', l: 'Tp' }],
  [123, 2980, 72, 27], false);
</script>
</body></html>
